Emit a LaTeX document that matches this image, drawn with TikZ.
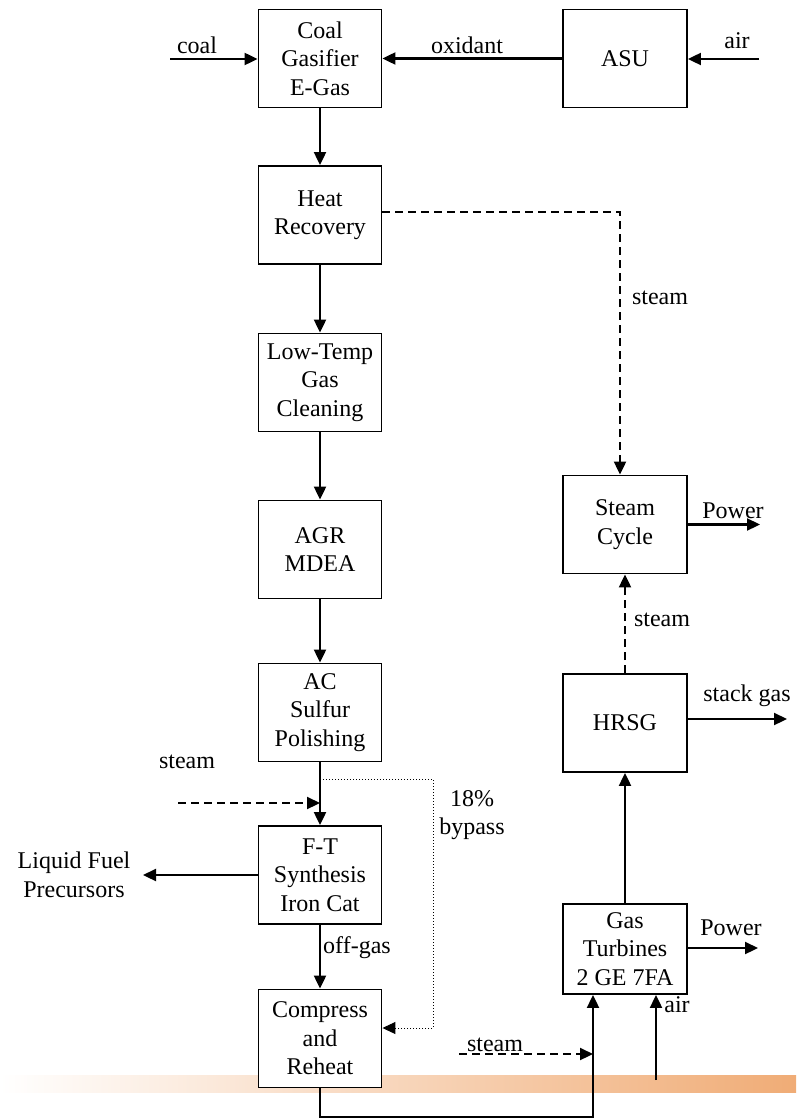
\documentclass[tikz,border=0pt]{standalone}
\usepackage{fontspec}
\setmainfont{Liberation Serif}
\usetikzlibrary{arrows.meta}
\definecolor{barorange}{RGB}{240,172,118}
\begin{document}
\begin{tikzpicture}[x=1pt,y=-1pt,
  font=\fontsize{24}{28.5}\selectfont,
  box/.style={draw,line width=1.9pt,fill=white,align=center,minimum width=123pt,minimum height=98pt,inner sep=0pt},
  flow/.style={line width=2.2pt,-{Triangle[length=13pt,width=12pt]}},
  dsh/.style={flow,dash pattern=on 8pt off 5pt},
  dotl/.style={line width=1pt,dotted,-{Triangle[length=13pt,width=12pt]}},
  lbl/.style={inner sep=0pt,anchor=center,align=center}]
\useasboundingbox (0,0) rectangle (796,1118);
\shade[left color=white,right color=barorange] (0,1075) rectangle (796,1092);
% left column
\node[box] (gas) at (320,58.5) {Coal\\Gasifier\\E-Gas};
\node[box] (hr) at (320,215) {Heat\\Recovery};
\node[box] (ltg) at (320,382.5) {Low-Temp\\Gas\\Cleaning};
\node[box] (agr) at (320,549.5) {AGR\\MDEA};
\node[box] (ac) at (320,712.5) {AC\\Sulfur\\Polishing};
\node[box] (ft) at (320,875) {F-T\\Synthesis\\Iron Cat};
\node[box] (cr) at (320,1038.5) {Compress\\and\\Reheat};
% right column
\node[box,minimum width=124pt] (asu) at (625,58.5) {ASU};
\node[box,minimum width=124pt] (sc) at (625,524.5) {Steam\\Cycle};
\node[box,minimum width=124pt] (hrsg) at (625,723) {HRSG};
\node[box,minimum width=124pt,minimum height=90pt] (gt) at (625,949) {Gas\\Turbines\\2 GE 7FA};
% coordinates
\coordinate (coalin) at (170,59);
\coordinate (airin) at (759,59);
\coordinate (hs) at (620,212);
\coordinate (stl) at (178,803);
\coordinate (liq) at (143,875);
\coordinate (bp1) at (320,779);
\coordinate (bp2) at (433,1028);
\coordinate (gtin) at (593,1117.5);
\coordinate (stb) at (459,1054);
\coordinate (airb) at (656,1080);
\coordinate (p1) at (760,524.5);
\coordinate (stk) at (787,719);
\coordinate (p2) at (758,948);
% connectors
\draw[flow] (coalin) -- (coalin -| gas.west);
\draw[flow] (asu.west) -- (gas.east);
\draw[flow] (airin) -- (airin -| asu.east);
\draw[flow] (gas) -- (hr);
\draw[flow] (hr) -- (ltg);
\draw[flow] (ltg) -- (agr);
\draw[flow] (agr) -- (ac);
\draw[flow] (ac) -- (ft);
\draw[flow] (ft) -- (cr);
\draw[dsh] (stl) -- (stl -| ac.south);
\draw[flow] (ft.west) -- (liq);
\draw[dotl] (bp1) -| (bp2) -- (bp2 -| cr.east);
\draw[dsh] (hr.east |- hs) -- (hs) -- (hs |- sc.north);
\draw[flow] (cr.south) |- (gtin) -- (gtin |- gt.south);
\draw[dsh] (stb) -- (stb -| gtin);
\draw[flow] (airb) -- (airb |- gt.south);
\draw[flow] (gt) -- (hrsg);
\draw[dsh] (hrsg) -- (sc);
\draw[flow] (sc.east) -- (p1);
\draw[flow] (stk -| hrsg.east) -- (stk);
\draw[flow] (p2 -| gt.east) -- (p2);
% labels
\node[lbl] (lcoal) at (197,45) {coal};
\node[lbl] (lox) at (467,45) {oxidant};
\node[lbl] (lair) at (737,41) {air};
\node[lbl] (lst1) at (660,298) {steam};
\node[lbl] (lpw1) at (733,511) {Power};
\node[lbl] (lst2) at (662,620) {steam};
\node[lbl] (lstk) at (747,696) {stack gas};
\node[lbl] (lst3) at (187,762) {steam};
\node[lbl] (lbyp) at (472,815) {18\%\\bypass};
\node[lbl] (lliq) at (74,875) {Liquid Fuel\\Precursors};
\node[lbl] (loff) at (357,948) {off-gas};
\node[lbl] (lpw2) at (731,928) {Power};
\node[lbl] (lst4) at (495,1045) {steam};
\node[lbl] (lair2) at (677,1005) {air};
\end{tikzpicture}
\end{document}
